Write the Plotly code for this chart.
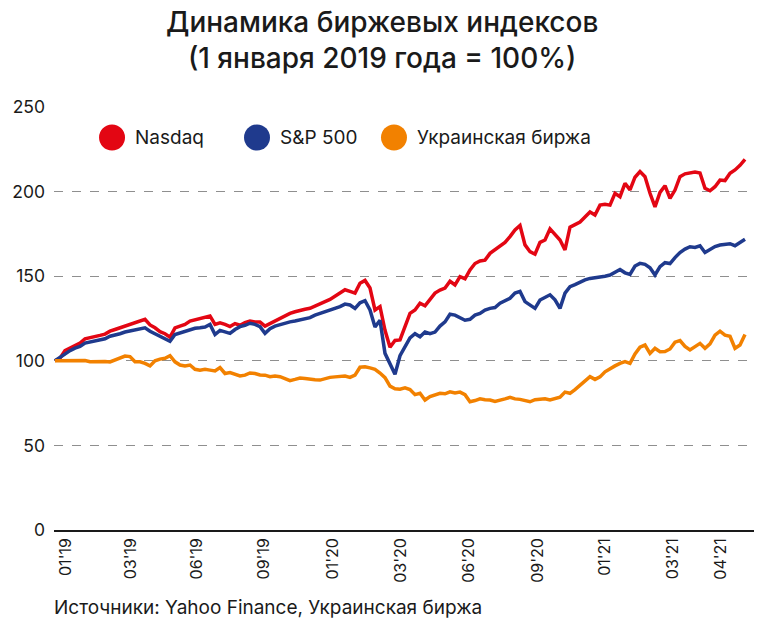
"""
Динамика биржевых индексов: Nasdaq, S&P 500, Украинская биржа
"""

import plotly.graph_objects as go

# index of points (roughly weekly sampling, Jan 2019 -> May 2021)
nasdaq = [
    100, 101.5, 106, 107.5, 109.5, 110.5, 113, 113.5, 114.5, 115,
    115.8, 117.5, 118.5, 119.5, 121, 121.5, 122.8, 123.5, 124.5, 121.2,
    119.5, 117.2, 116, 114, 119.4, 120.5, 121.5, 123.5, 124.2, 124.7,
    125.5, 126.5, 121.5, 122.5, 121.5, 120.2, 122, 121, 122.5, 123.5,
    123, 122.9, 120.5, 122, 123.5, 125.1, 126.5, 128, 129, 130,
    130.5, 131, 132.5, 134, 135, 136.3, 138, 139.9, 142, 141,
    140, 145.8, 147.5, 143, 130, 132, 118, 108, 112, 112.3,
    120, 128, 130, 134, 132.5, 136, 140, 141.8, 143, 147,
    144.8, 149.7, 148.5, 153.7, 157.5, 159, 159.5, 163.5, 165.5, 168,
    170, 173.4, 177.3, 180, 168.5, 164.5, 163, 170, 171.4, 178,
    175, 171.4, 165.5, 179, 180.5, 182, 185, 188, 186.2, 192,
    192.5, 192, 199, 197, 204.9, 201, 208.5, 211.8, 208.8, 199,
    191, 199.5, 203.5, 196, 200.9, 208.8, 210.5, 211, 211.5, 211,
    202, 200.5, 202.9, 206.8, 206.5, 210.8, 212.8, 215.5, 219,
]

sp500 = [
    100, 102, 104.5, 106, 107.5, 108.5, 110.5, 111, 112, 112.5,
    113, 114.5, 115, 116, 117, 117.5, 118.2, 118.5, 119.5, 117.5,
    116, 114.5, 113.5, 111.5, 115.5, 116.5, 117.5, 118.5, 119.2, 119.5,
    120, 121.5, 115.5, 118, 117, 116.2, 118.5, 120.2, 121, 122.2,
    121.5, 120.2, 116.2, 119, 120.5, 121.5, 122.5, 123, 123.5, 124.2,
    125, 125.5, 127, 128, 128.5, 129.5, 130.5, 132, 133.5, 133,
    131, 134.3, 135.5, 130, 120, 124, 104.4, 98.5, 92, 103,
    108, 113.5, 116, 114.2, 117, 116, 117, 120.5, 123, 127.5,
    127, 125.5, 124, 124.5, 127, 128, 130, 131, 131.5, 134,
    135.5, 137, 140, 141, 135, 133, 131, 135.9, 137.5, 139,
    136, 131, 140, 143.8, 145, 146.5, 147.8, 148.7, 149, 149.7,
    150, 150.7, 152.5, 154, 152, 151, 156, 157.6, 157, 155,
    150.7, 155.6, 158, 157.5, 161, 164, 166, 167.4, 167, 168,
    164, 165.5, 167.5, 168.4, 169, 169.2, 168, 170, 171.8,
]

ukr = [
    100, 100, 100, 100, 100, 100, 100.2, 99.5, 99.5, 100,
    99.6, 99.3, 100.3, 101.5, 102.8, 102.5, 99.5, 99.4, 98.5, 97,
    100, 101, 101.5, 103, 99.4, 97.5, 96.9, 97.5, 95, 94.5,
    95, 94.5, 94, 96, 92.5, 93, 92, 91, 91.5, 92.8,
    92.5, 91.6, 91.5, 90.6, 91, 90.6, 89.5, 88.3, 89, 89.8,
    89.5, 89, 88.8, 88.6, 89.5, 90.2, 90.5, 90.6, 91, 90.2,
    91.5, 96.2, 96.5, 95.8, 95, 92.8, 90, 85, 83.5, 83.2,
    84, 83, 80, 80.8, 76.8, 78.8, 80, 80.8, 80.5, 81.7,
    81, 81.5, 80, 75.8, 76.5, 77.5, 77, 76.8, 76, 76.5,
    77.5, 78.4, 77.5, 77.2, 76.5, 75.8, 77, 77.5, 77.5, 76.8,
    77.5, 78.5, 81.5, 80.8, 83, 85.7, 88, 90.6, 89, 90.5,
    93.5, 95.5, 97, 98.5, 99.5, 98.5, 104, 108, 109.3, 104.4,
    107.4, 105.4, 105.5, 107, 111, 112, 108.5, 106.4, 108.3, 110.3,
    107.4, 110, 115.2, 117.5, 115.2, 114.5, 107.4, 109.3, 115.5,
]

tick_pos = [2.2, 15.2, 28.4, 41.8, 55.6, 69.2, 82.8, 96.6, 110, 123.6, 133.2]
tick_labels = ["01'19", "03'19", "06'19", "09'19", "01'20", "03'20",
               "06'20", "09'20", "01'21", "03'21", "04'21"]

names = ["Nasdaq", "S&P 500", "Украинская биржа"]
colors = ["#e30613", "#1f3a8d", "#f28100"]

FONT = "Inter"
TEXT = '#1a1a1a'
x = list(range(len(nasdaq)))

fig = go.Figure()

for name, values, color in zip(names, [nasdaq, sp500, ukr], colors):
    fig.add_trace(go.Scatter(
        x=x, y=values, name=name, mode='lines',
        line=dict(color=color, width=3.5),
        showlegend=False
    ))

# legend drawn by hand: big coloured dots + labels
legend_x = [0.0829, 0.2900, 0.4857]
legend_y = 0.928
for lx, name, color in zip(legend_x, names, colors):
    fig.add_shape(
        type='circle', xref='paper', yref='paper',
        xsizemode='pixel', ysizemode='pixel',
        xanchor=lx, yanchor=legend_y,
        x0=-13, x1=13, y0=-13, y1=13,
        fillcolor=color, line=dict(width=0)
    )
    fig.add_annotation(
        x=lx, y=legend_y, xref='paper', yref='paper',
        text=name, showarrow=False, xanchor='left', yanchor='middle',
        xshift=21, font=dict(family=FONT, size=19, color=TEXT)
    )

# title (two lines), 40 px from the top, centred on the page
fig.add_annotation(
    x=(382 - 54) / 700, y=(627 - 97 - 40) / 423, xref='paper', yref='paper',
    text="Динамика биржевых индексов<br>(1 января 2019 года = 100%)",
    showarrow=False, xanchor='center', yanchor='middle',
    font=dict(family=FONT, size=28, color=TEXT, weight=500)
)

fig.add_annotation(
    x=0, y=-0.184, xref='paper', yref='paper',
    text="Источники: Yahoo Finance, Украинская биржа",
    showarrow=False, xanchor='left', yanchor='middle', xshift=-2,
    font=dict(family=FONT, size=19, color=TEXT)
)

fig.update_layout(
    width=764, height=627,
    margin=dict(l=54, r=10, t=107, b=97),
    paper_bgcolor='white', plot_bgcolor='white',
    font=dict(family=FONT, color=TEXT)
)

fig.update_xaxes(
    range=[-0.2, 139.8], tickvals=tick_pos, ticktext=tick_labels,
    tickangle=-90, showgrid=False, zeroline=False,
    showline=True, linecolor=TEXT, linewidth=1.5,
    ticks='', tickfont=dict(size=16)
)

fig.update_yaxes(
    range=[0, 250], tickvals=[0, 50, 100, 150, 200, 250],
    showgrid=True, gridcolor='#8f8f8f', griddash='dash', gridwidth=1,
    zeroline=False, ticks='', ticklabelstandoff=8,
    tickfont=dict(size=17.5)
)

fig.write_html("out.html", config={'displayModeBar': False},
               post_script="document.body.style.margin='0';")
